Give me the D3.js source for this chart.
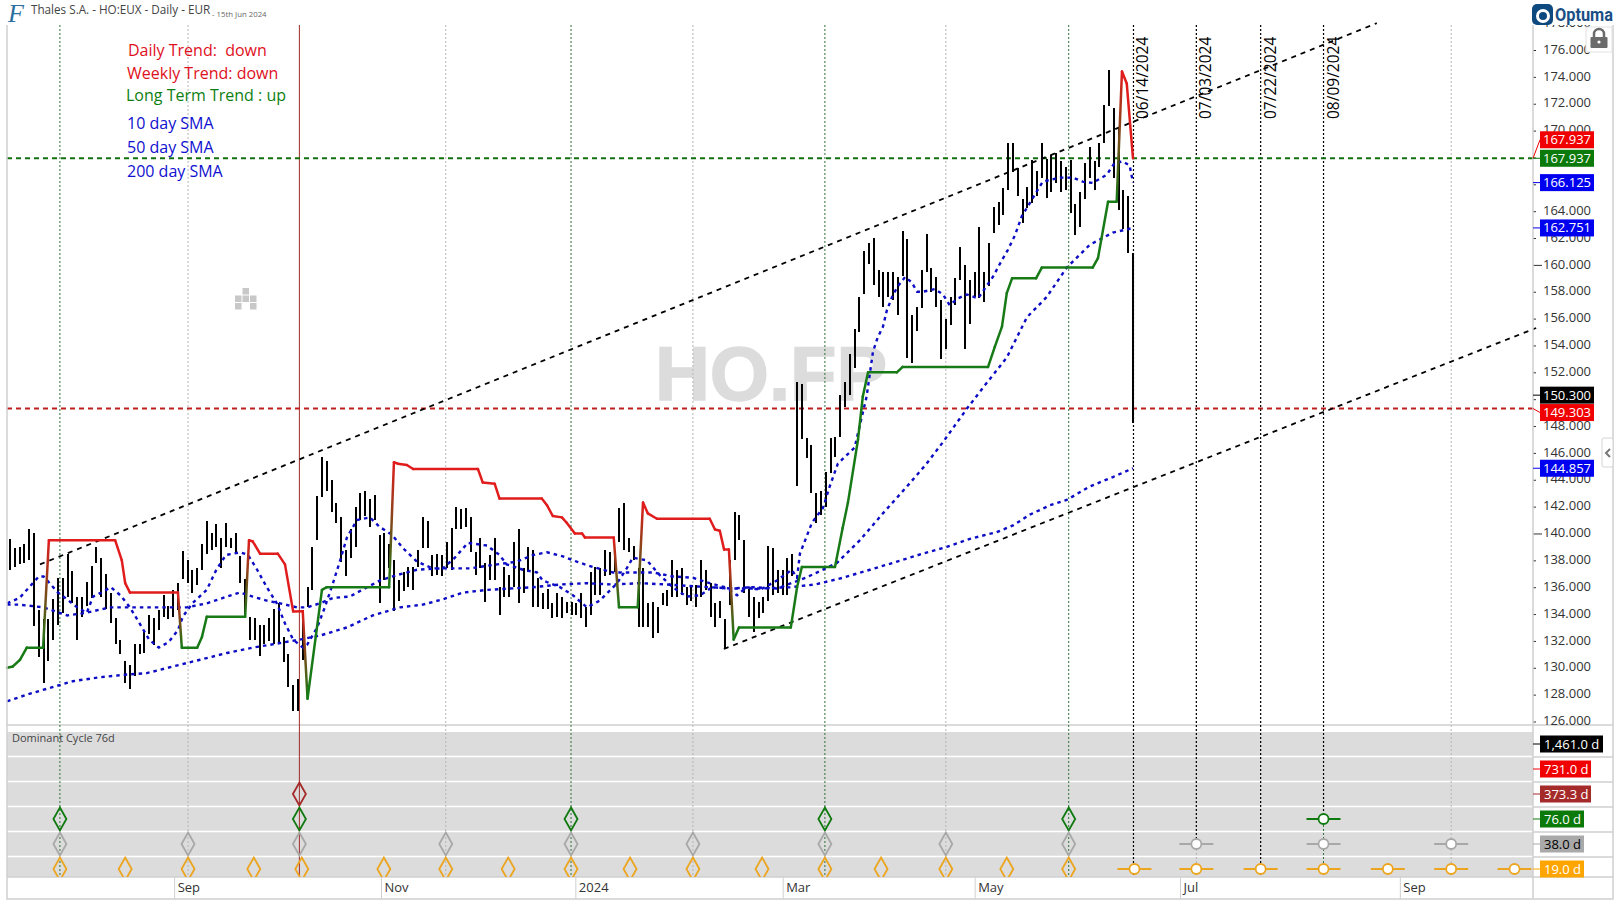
<!DOCTYPE html>
<html lang="en">

<head>
	<meta charset="UTF-8">
	<title>Thales S.A. - HO:EUX - Daily</title>

	<style>
		body { margin: 0; background: white; }
		svg { display: block; }
		text { font-family: "Open Sans", sans-serif; }
	</style>

	<script src="https://d3js.org/d3.v7.min.js"></script>

</head>

<body>

	<script type="text/javascript">
		//price bars, one value per trading day
		const highs = [139.6,138.9,139.0,139.2,140.3,140.0,134.3,133.6,133.6,135.1,136.7,136.7,138.5,137.2,135.3,135.3,136.4,137.6,139.0,138.2,
			137.0,135.6,133.7,132.1,130.5,130.2,131.8,131.8,132.7,133.9,133.7,134.3,135.4,134.6,135.8,136.3,138.7,138.0,137.3,137.4,
			139.2,140.9,140.0,140.7,139.7,140.8,139.7,140.0,138.3,136.6,133.8,133.7,133.2,133.2,133.7,134.4,134.8,132.3,131.0,128.7,
			129.2,134.3,136.0,139.0,142.8,145.7,145.4,144.0,142.3,141.2,138.8,140.3,142.0,143.0,143.2,142.6,142.9,139.9,140.0,139.2,
			138.0,136.5,137.1,137.5,137.5,138.8,141.2,140.9,138.4,138.5,138.4,139.4,140.4,142.0,141.8,141.9,141.2,138.6,139.7,137.8,
			138.4,139.7,136.0,137.5,136.9,139.4,140.3,137.4,139.0,138.8,136.7,135.6,135.9,134.8,135.6,135.3,134.9,134.9,134.8,135.6,
			134.5,137.1,137.5,137.4,138.8,138.6,138.6,141.9,142.3,139.7,139.1,137.4,137.4,134.8,134.9,134.5,135.6,135.8,138.0,137.3,
			137.4,136.0,136.0,136.2,138.0,137.3,136.3,134.8,135.0,133.6,138.0,141.6,141.4,139.5,135.9,135.3,134.9,135.3,139.1,138.9,
			137.3,137.3,138.2,138.5,151.3,151.1,147.1,146.6,143.0,143.2,144.6,147.1,147.2,150.3,151.3,153.4,155.2,157.6,161.0,161.6,
			162.0,159.6,159.5,159.5,159.5,159.1,162.5,161.9,156.3,156.9,159.6,162.3,159.8,159.1,157.4,156.0,157.6,159.0,161.3,160.0,
			158.9,159.5,162.8,159.5,161.6,164.3,164.7,165.7,169.1,169.1,167.2,164.9,165.8,167.8,167.0,169.1,167.9,168.2,168.3,167.7,
			167.3,167.8,164.5,165.4,167.6,168.8,167.7,169.1,171.9,174.5,171.7,170.3,165.6,165.1,160.9]
		const lows = [137.3,137.5,137.7,137.8,138.0,133.1,130.8,128.9,130.5,132.1,133.2,134.1,135.3,134.8,132.1,133.8,134.6,135.2,137.8,135.3,
			134.4,133.3,131.8,131.0,128.9,128.4,129.4,131.0,131.1,132.5,131.7,132.8,133.8,133.6,133.8,134.3,136.6,136.3,135.6,136.2,
			137.3,138.5,138.8,139.0,137.4,139.0,138.9,138.5,136.3,133.8,132.1,132.1,130.9,131.8,132.0,131.8,131.8,130.4,128.6,126.8,
			126.8,130.6,134.5,135.8,139.5,142.7,143.2,141.6,140.8,137.9,136.8,138.2,139.0,141.0,141.3,140.5,141.0,134.8,136.5,137.4,
			134.2,135.0,135.7,136.0,135.8,137.5,138.9,138.9,136.8,136.9,136.8,137.4,137.3,140.3,140.3,140.5,138.6,136.9,137.4,134.9,
			136.5,136.5,133.9,135.3,135.3,136.0,134.8,135.6,137.1,134.5,134.5,134.4,134.4,133.7,133.8,133.7,134.1,133.9,133.9,133.7,
			133.0,133.9,135.4,135.4,136.8,136.9,137.1,139.4,138.8,138.6,138.0,133.0,133.0,133.0,132.2,132.6,134.7,134.6,135.3,135.3,
			135.4,134.7,135.0,134.5,135.3,135.8,133.8,133.0,133.7,131.5,134.7,138.0,139.5,135.6,133.8,132.7,133.7,134.1,135.0,135.4,
			135.6,135.4,135.4,136.8,143.5,147.0,145.6,143.0,140.8,141.4,142.0,144.5,145.7,147.2,149.4,150.3,152.3,155.0,157.8,160.1,
			158.5,157.6,156.9,157.6,157.4,156.3,159.2,153.1,152.7,155.1,156.8,159.5,158.0,156.9,153.0,153.7,155.5,157.0,158.9,153.7,
			155.6,157.6,157.5,157.2,158.4,162.4,163.0,163.7,165.6,166.9,165.1,163.1,164.2,164.6,165.1,166.5,165.0,165.4,166.1,165.4,
			165.6,163.9,162.2,162.8,164.9,166.5,165.6,167.3,169.1,171.8,166.5,164.1,162.7,160.9,148.2]

		//moving averages, bar number and value of each bend
		const sma10Bars = [-0.6,2,4,6,7,8,10,11.5,14,16,17.3,19,21,23,25,27,29,31,33,35,36,38,41,43,45,48,49.6,51.5,53.5,55.6,57.3,59,61,61.9,64,65.6,67.3,68.8,70.2,72.3,75,77,79.6,81.9,84.8,88.1,90.2,92.7,95.4,99.4,102,103.5,106.9,109.8,111,114.6,117.3,120.2,122.9,126.5,128.5,129.8,132.7,135.4,138.1,141,143.8,146.3,149.4,151.5,153.5,156.3,159.8,162.9,164,164.6,167.1,169.4,170.8,172.5,176,177.5,178.5,179.8,180.8,181.9,182.7,184,185,186.5,187.9,189,190.2,192.7,194.4,195.8,197.5,199.4,201.7,204.8,206.3,207.9,209.4,210.8,213.5,215.2,218.8,221.5,223.5,225.6,228.5,230.2,231.9,233.3,234]
		const sma10Vals = [134.8,135.2,136.0,136.8,136.8,136.4,135.6,135.2,134.5,134.1,135.3,135.6,136.0,135.4,134.5,133.3,132.1,131.5,131.9,132.8,133.8,134.8,135.8,137.3,138.4,138.6,138.4,137.3,136.0,134.8,133.3,132.1,131.5,131.7,133.0,134.5,136.3,138.0,139.7,141.0,141.2,140.5,139.9,138.9,137.9,137.4,137.4,138.2,139.3,139.1,138.4,137.7,137.3,137.1,136.5,136.0,135.4,134.5,135.0,136.3,137.4,138.2,138.0,136.9,136.0,135.3,135.4,136.0,135.9,135.4,136.0,135.8,136.5,137.3,136.7,138.5,140.8,141.9,143.5,145.2,146.4,148.7,150.2,153.5,154.6,155.4,156.6,157.8,158.4,159.1,158.7,158.0,158.0,158.2,157.8,157.0,157.5,157.8,157.5,159.1,160.1,161.1,162.2,163.6,165.2,166.2,166.5,166.5,166.2,166.1,166.7,167.6,167.7,167.4,166.125]
		const sma50Bars = [-0.6,2,7,11.9,16,20.8,24.4,28.5,32.7,36.9,41,45.2,47.9,50.6,53.5,56.3,59.8,61.9,64.6,67.3,70.8,74.4,77.1,80.6,84.8,89.6,95.8,101.5,105.6,109,111.9,115.2,118.1,121.5,125.6,129.8,134,138.1,142.3,145.8,150,154.8,159.8,165.8,172.3,177.1,181.9,186.9,191,194.4,199.4,203.5,207.7,211.9,216,220.2,225,229.8,234]
		const sma50Vals = [134.7,134.7,134.5,133.9,134.1,134.5,134.5,134.5,134.5,134.5,134.8,135.3,135.6,135.3,135.0,134.8,134.5,134.5,134.8,135.2,135.3,136.0,136.5,136.9,137.3,137.4,137.4,137.7,137.9,138.4,138.6,138.3,137.9,137.5,137.1,137.1,137.1,136.8,136.7,136.3,135.9,136.0,135.9,136.7,137.8,139.5,141.5,143.5,145.2,146.8,149.3,151.2,153.1,156.1,157.6,159.8,161.5,162.4,162.751]
		const sma200Bars = [-0.6,3.5,8.3,13.1,18.8,24.4,28.5,34,39.6,45.2,50.6,55.6,60.4,64.6,70.2,75.6,81.3,86,90.2,94.4,99.4,104.2,109,114.6,120.2,125.6,131.3,136.9,141,145.8,150.6,156.3,162.5,167.7,173.5,179.2,184.8,190.2,195.2,200,205.6,209,212.5,216.7,220.2,225,229.8,234]
		const sma200Vals = [127.5,128.0,128.5,129.0,129.3,129.5,129.6,130.1,130.6,131.1,131.5,131.8,132.1,132.4,133.0,133.9,134.5,134.7,135.1,135.6,135.8,135.9,136.0,136.2,136.3,136.2,136.3,136.2,136.1,136.0,135.9,135.9,136.0,136.2,136.7,137.3,137.9,138.5,139.0,139.6,140.1,140.6,141.4,142.1,142.5,143.5,144.2,144.857]

		//red and green trend stop line: bar and value of each bend, then where it flips colour
		const trendBars = [-0.6,0.6,2.1,3.5,6.9,8.1,21.9,23.3,24,25,35,35.8,39,40,41,49,49.8,50.6,52.1,55.8,57.3,59,61,62,65,66,79,80,80.8,82.7,84,97.5,98.5,101,102,110.8,111.9,113.1,115,116,117.7,119.2,119.8,125.8,126.9,130.8,131.9,132.9,134.8,145.8,146.9,147.9,148.8,149.8,150.8,151.9,162.7,164,165,171.9,173.5,174.6,176.7,177.7,178.8,184.8,186,203.8,205.2,206.7,207.7,208.8,213.8,215,225.6,226.7,228.8,230.6,231.7,232.7,234]
		const trendVals = [130.0,130.1,130.6,131.5,131.5,139.5,139.5,138.0,136.3,135.6,135.6,131.5,131.5,132.3,133.8,133.8,139.5,139.4,138.5,138.5,137.7,134.2,134.2,127.7,135.8,136.0,136.0,145.3,145.2,145.1,144.8,144.8,143.8,143.7,142.6,142.6,142.1,141.3,141.2,140.8,140.0,140.0,139.7,139.7,134.5,134.5,142.3,141.5,141.1,141.1,140.3,140.2,138.8,138.8,132.1,133.0,133.0,136.0,137.5,137.5,140.4,142.3,147.0,150.2,152.0,152.0,152.4,152.4,153.9,155.4,157.9,159.0,159.0,159.8,159.8,160.5,164.7,164.7,174.4,173.5,167.937]
		const trendTurns = [[0,"g"],[5,"r"],[11,"g"],[16,"r"],[23,"g"],[27,"r"],[44,"g"],[46,"r"],[54,"g"],[78,"r"]]

		//channel lines, two anchors each (bar, value)
		const channelBars = [[6.25,284.8],[148.75,318]]
		const channelVals = [[137.7,178.0],[131.4,155.3]]

		//horizontal levels
		const levelVals = [167.937,149.303]
		const levelColors = ["#13700f","#c01f1f"]

		//projected dates
		const dateBars = [234.1,247.2,260.6,273.7]
		const dateLabels = ["06/14/2024","07/03/2024","07/22/2024","08/09/2024"]

		//axis labels
		const priceTicks = d3.range(126,180,2)
		const monthBars = [34.2,77.3,117.8,161,201,243.8,289.6]
		const monthLabels = ["Sep","Nov","2024","Mar","May","Jul","Sep"]

		//cycle rows
		const cycleRows = ["1,461.0 d","731.0 d","373.3 d","76.0 d","38.0 d","19.0 d"]
		const cycleColors = ["black","#f00000","#a52a2a","#0b7a0b","#a9a9a9","#ffa500"]
		const cycleStroke = ["black","#f00000","#a52a2a","#0f7a0f","#a8a8a8","#eca51f"]
		const cycleText = ["white","white","white","white","black","white"]
		const cycleTagWidth = [63,51,51,44,44,44]

		const diamonds373 = [60.3]
		const diamonds76 = [10.4,60.3,116.9,169.8,220.6]
		const diamonds38 = [10.4,37.1,60.3,90.8,116.9,142.3,169.8,195,220.6]
		const diamonds19 = [10.4,24,37.1,50.8,60.8,77.9,90.8,103.8,116.9,129.2,142.3,156.7,169.8,181.5,195,207.7,220.6]
		const future76 = [273.7]
		const future38 = [247.2,273.7,300.3]
		const future19 = [234.3,247.2,260.6,273.7,287.1,300.3,313.5]

		//price tags on the right side
		const tagVals = [167.937,167.937,166.125,162.751,150.300,149.303,144.857]
		const tagColors = ["#f00000","#0b7a0b","#0000f0","#0000f0","black","#f00000","#0000f0"]

		const notes = ["Daily Trend:  down","Weekly Trend: down","Long Term Trend : up","10 day SMA","50 day SMA","200 day SMA"]
		const noteColors = ["#e0101c","#e0101c","#0e7f12","#1010d0","#1010d0","#1010d0"]

		const width = 1620
		const height = 907
		const plotLeft = 7
		const plotRight = 1533
		const plotTop = 25
		const plotBottom = 725
		const bandTop = 732
		const bandBottom = 877
		const axisBottom = 899
		const paneRight = 1613

		//create an svg
		const svg = d3.select("body").append("svg")
			.attr("width", width)
			.attr("height", height)
			.attr("viewBox", "0 0 " + width + " " + height)

		const defs = svg.append("defs")

		defs.append("clipPath").attr("id", "bandclip")
			.append("rect")
			.attr("x", plotLeft).attr("y", bandTop)
			.attr("width", plotRight - plotLeft).attr("height", bandBottom - bandTop)

		//scales: x runs on bar number, 235 bars plus the projected days
		const x = d3.scaleLinear().domain([0, 234]).range([10, 1133])
		const y = d3.scaleLinear().domain([126, 176]).range([721.5, 50])
		const rowY = d3.scalePoint().domain(cycleRows).range([744, 869])

		svg.append("rect").attr("width", width).attr("height", height).attr("fill", "white")

		//watermark
		svg.append("text")
			.attr("x", 771).attr("y", 400)
			.attr("text-anchor", "middle")
			.style("font-family", "'Liberation Sans'")
			.style("font-weight", "bold")
			.style("font-size", "76px")
			.attr("fill", "#dcdcdc")
			.attr("stroke", "#dcdcdc").attr("stroke-width", 1.5)
			.text("HO.FP")

		//gray cycle bands
		svg.append("rect")
			.attr("x", plotLeft).attr("y", bandTop)
			.attr("width", plotRight - plotLeft).attr("height", bandBottom - bandTop)
			.attr("fill", "#dcdcdc")

		svg.selectAll(".rowline")
			.data(cycleRows.slice(0, 5))
			.join("line")
			.attr("x1", plotLeft).attr("x2", plotRight)
			.attr("y1", d => rowY(d) + 12.5).attr("y2", d => rowY(d) + 12.5)
			.attr("stroke", "white").attr("stroke-width", 1.5)

		//right pane separators
		svg.selectAll(".paneline")
			.data(cycleRows.slice(0, 5))
			.join("line")
			.attr("x1", plotRight).attr("x2", paneRight)
			.attr("y1", d => rowY(d) + 13).attr("y2", d => rowY(d) + 13)
			.attr("stroke", "#cfcfcf").attr("stroke-width", 1.5)
		svg.append("line")
			.attr("x1", plotLeft).attr("x2", paneRight)
			.attr("y1", plotBottom).attr("y2", plotBottom)
			.attr("stroke", "#cfcfcf").attr("stroke-width", 1.5)

		//vertical cycle lines
		const grayBars = [37.1,90.8,142.3,195,247.2,300.3]
		svg.selectAll(".vgray")
			.data(grayBars)
			.join("line")
			.attr("x1", d => x(d)).attr("x2", d => x(d))
			.attr("y1", plotTop).attr("y2", bandBottom)
			.attr("stroke", "#b4b4b4").attr("stroke-dasharray", "2,2")
		svg.selectAll(".vgreen")
			.data([10.4,116.9,169.8,220.6,273.7])
			.join("line")
			.attr("x1", d => x(d)).attr("x2", d => x(d))
			.attr("y1", plotTop).attr("y2", bandBottom)
			.attr("stroke", "#2f6f3a").attr("stroke-dasharray", "2,2")

		//projected date lines
		svg.selectAll(".vdate")
			.data(dateBars)
			.join("line")
			.attr("x1", d => x(d)).attr("x2", d => x(d))
			.attr("y1", plotTop).attr("y2", (d, i) => i == 1 ? 844 : i == 3 ? 819 : bandBottom)
			.attr("stroke", "black").attr("stroke-width", 1.2).attr("stroke-dasharray", "2,2")

		//brown line
		svg.append("line")
			.attr("x1", x(60.3)).attr("x2", x(60.3))
			.attr("y1", plotTop).attr("y2", bandBottom)
			.attr("stroke", "#a02c2c").attr("stroke-width", 1)

		//levels
		svg.selectAll(".level")
			.data(levelVals)
			.join("line")
			.attr("x1", plotLeft).attr("x2", plotRight)
			.attr("y1", d => y(d)).attr("y2", d => y(d))
			.attr("stroke", (d, i) => levelColors[i])
			.attr("stroke-width", 2).attr("stroke-dasharray", "5,4")

		//channel lines
		svg.selectAll(".channel")
			.data(channelBars)
			.join("line")
			.attr("x1", d => x(d[0])).attr("x2", d => x(d[1]))
			.attr("y1", (d, i) => y(channelVals[i][0])).attr("y2", (d, i) => y(channelVals[i][1]))
			.attr("stroke", "black").attr("stroke-width", 1.8).attr("stroke-dasharray", "5,5")

		//price bars
		svg.selectAll(".bar")
			.data(highs)
			.join("line")
			.attr("x1", (d, i) => x(i)).attr("x2", (d, i) => x(i))
			.attr("y1", d => y(d)).attr("y2", (d, i) => y(lows[i]))
			.attr("stroke", "black").attr("stroke-width", 2)
			.style("shape-rendering", "crispEdges")

		//moving averages
		const maLine = d3.line().x(d => x(d[0])).y(d => y(d[1]))
		const maSeries = [[sma10Bars, sma10Vals], [sma50Bars, sma50Vals], [sma200Bars, sma200Vals]]
		svg.selectAll(".ma")
			.data(maSeries)
			.join("path")
			.attr("d", d => maLine(d3.zip(d[0], d[1])))
			.attr("fill", "none")
			.attr("stroke", "#0c0cc4").attr("stroke-width", 2.4).attr("stroke-dasharray", "3.5,4")

		//trend line, each piece red or green, brown blend where it flips
		const trendRed = "#e01c1c"
		const trendGreen = "#177a17"
		function trendColor(i) {
			let c = "g"
			trendTurns.forEach(t => { if (i >= t[0]) c = t[1] })
			return c == "r" ? trendRed : trendGreen
		}
		const trendPieces = d3.pairs(d3.range(trendBars.length))
		trendPieces.forEach(function(p, k) {
			const x1 = x(trendBars[p[0]]), y1 = y(trendVals[p[0]])
			const x2 = x(trendBars[p[1]]), y2 = y(trendVals[p[1]])
			const c1 = trendColor(p[0]), c2 = trendColor(p[1])
			let stroke = c1
			if (c1 != c2) {
				const g = defs.append("linearGradient")
					.attr("id", "flip" + k)
					.attr("gradientUnits", "userSpaceOnUse")
					.attr("x1", x1).attr("y1", y1).attr("x2", x2).attr("y2", y2)
				g.append("stop").attr("offset", 0).attr("stop-color", c1)
				g.append("stop").attr("offset", 1).attr("stop-color", c2)
				stroke = "url(#flip" + k + ")"
			}
			svg.append("line")
				.attr("x1", x1).attr("y1", y1 + (y1 == y2 ? 0.01 : 0))
				.attr("x2", x2).attr("y2", y2)
				.attr("stroke", stroke).attr("stroke-width", 2.5).attr("stroke-linecap", "round")
		})

		//axes
		const yAxis = svg.append("g")
			.attr("transform", "translate(" + plotRight + ",0)")
			.call(d3.axisRight(y).tickValues(priceTicks).tickFormat(d3.format(".3f")).tickSize(3).tickPadding(7))
		yAxis.select(".domain").remove()
		yAxis.selectAll("text").style("font-size", "13px").attr("fill", "#333").attr("x", 10).attr("y", -1)
		yAxis.selectAll("line").attr("x2", d => d % 20 == 0 ? 9 : 3).attr("stroke", "#333")

		const xAxis = svg.append("g")
			.attr("transform", "translate(0," + bandBottom + ")")
			.call(d3.axisBottom(x).tickValues(monthBars).tickFormat((d, i) => monthLabels[i]).tickSize(axisBottom - bandBottom))
		xAxis.select(".domain").remove()
		xAxis.selectAll("line").attr("stroke", "#cfcfcf")
		xAxis.selectAll("text")
			.attr("x", 3).attr("y", 15).attr("dy", 0)
			.attr("text-anchor", "start")
			.style("font-size", "13px").attr("fill", "#333")

		//panel frame
		svg.append("path")
			.attr("d", "M" + plotLeft + "," + plotTop + "V" + axisBottom + "H" + paneRight + "V" + plotTop
				+ "M" + plotRight + "," + plotTop + "V" + axisBottom
				+ "M" + plotLeft + "," + bandBottom + "H" + paneRight)
			.attr("fill", "none").attr("stroke", "#cfcfcf").attr("stroke-width", 1.5)

		//cycle diamonds
		const diamondPath = "M0,-11.5L6.5,0L0,11.5L-6.5,0Z"
		const diamondRows = [[diamonds373, 2], [diamonds76, 3], [diamonds38, 4], [diamonds19, 5]]
		const clipped = svg.append("g").attr("clip-path", "url(#bandclip)")
		diamondRows.forEach(function(r) {
			clipped.selectAll(null)
				.data(r[0])
				.join("path")
				.attr("d", diamondPath)
				.attr("transform", d => "translate(" + x(d) + "," + rowY(cycleRows[r[1]]) + ")")
				.attr("fill", "none")
				.attr("stroke", cycleStroke[r[1]]).attr("stroke-width", 1.8)
		})

		//projected cycle markers
		const futureRows = [[future76, 3], [future38, 4], [future19, 5]]
		futureRows.forEach(function(r) {
			const marks = svg.selectAll(null)
				.data(r[0])
				.join("g")
				.attr("transform", d => "translate(" + x(d) + "," + rowY(cycleRows[r[1]]) + ")")
			marks.append("line")
				.attr("x1", -17).attr("x2", 17)
				.attr("stroke", cycleStroke[r[1]]).attr("stroke-width", 2)
			marks.append("circle")
				.attr("r", 5)
				.attr("fill", "white")
				.attr("stroke", cycleStroke[r[1]]).attr("stroke-width", 1.8)
		})

		//cycle tags
		const rowTags = svg.selectAll(".rowtag")
			.data(cycleRows)
			.join("g")
			.attr("transform", d => "translate(1533," + rowY(d) + ")")
		rowTags.append("line")
			.attr("x1", 0).attr("x2", 7)
			.attr("stroke", (d, i) => cycleColors[i])
		rowTags.append("rect")
			.attr("x", 7).attr("y", -8.5)
			.attr("width", (d, i) => cycleTagWidth[i]).attr("height", 17)
			.attr("fill", (d, i) => cycleColors[i])
		rowTags.append("text")
			.attr("x", 11).attr("y", 5)
			.style("font-size", "13px")
			.attr("fill", (d, i) => cycleText[i])
			.text(d => d)

		svg.append("text")
			.attr("x", 12).attr("y", 742)
			.style("font-size", "11px").attr("fill", "#444")
			.text("Dominant Cycle 76d")

		//price tags, two are pushed aside so they dont overlap
		const tagShift = [-18.5, 0, 0, 0, 0, 4, 0]
		const priceTags = svg.selectAll(".pricetag")
			.data(tagVals)
			.join("g")
		priceTags.append("line")
			.attr("x1", plotRight).attr("x2", 1540)
			.attr("y1", d => y(d)).attr("y2", (d, i) => y(d) + tagShift[i])
			.attr("stroke", (d, i) => tagColors[i])
		priceTags.append("rect")
			.attr("x", 1540).attr("y", (d, i) => y(d) + tagShift[i] - 8.5)
			.attr("width", 54).attr("height", 17)
			.attr("fill", (d, i) => tagColors[i])
		priceTags.append("text")
			.attr("x", 1567).attr("y", (d, i) => y(d) + tagShift[i] + 4.5)
			.attr("text-anchor", "middle")
			.style("font-size", "13px").attr("fill", "white")
			.text(d => d3.format(".3f")(d))

		//rotated date labels
		svg.selectAll(".datelabel")
			.data(dateLabels)
			.join("text")
			.attr("transform", (d, i) => "translate(" + (x(dateBars[i]) + 15) + ",119) rotate(-90)")
			.style("font-size", "15.5px").attr("fill", "black")
			.text(d => d)

		//notes at top left
		const noteX = [128, 127, 126, 127, 127, 127]
		const noteY = [56, 79, 101, 129, 153, 177]
		svg.selectAll(".note")
			.data(notes)
			.join("text")
			.attr("x", (d, i) => noteX[i]).attr("y", (d, i) => noteY[i])
			.style("font-size", "16px")
			.style("white-space", "pre")
			.attr("fill", (d, i) => noteColors[i])
			.text(d => d)

		//title
		svg.append("text")
			.attr("x", 31).attr("y", 14)
			.style("font-size", "11.7px").attr("fill", "#444")
			.text("Thales S.A. - HO:EUX - Daily - EUR")
		svg.append("text")
			.attr("x", 212).attr("y", 17)
			.style("font-size", "7.8px").attr("fill", "#666")
			.text("- 15th Jun 2024")
		svg.append("text")
			.attr("x", 8).attr("y", 22)
			.style("font-family", "'Liberation Serif'")
			.style("font-style", "italic")
			.style("font-size", "26px")
			.attr("fill", "#2d6f9f")
			.text("F")

		//small gray mark left of the chart
		const markCells = [[1,0],[0,1],[1,1],[2,1],[0,2],[2,2]]
		svg.selectAll(".markcell")
			.data(markCells)
			.join("rect")
			.attr("x", d => 235 + d[0] * 7.5).attr("y", d => 288 + d[1] * 7.5)
			.attr("width", 6.5).attr("height", 6.5)
			.attr("fill", "#c8c8c8")

		//logo
		svg.append("rect").attr("x", 1530).attr("y", 0).attr("width", 90).attr("height", 25).attr("fill", "white")
		svg.append("rect").attr("x", 1532).attr("y", 4).attr("width", 21).attr("height", 21).attr("rx", 5).attr("fill", "#0e4a80")
		svg.append("circle").attr("cx", 1543).attr("cy", 16).attr("r", 5.5).attr("fill", "none").attr("stroke", "white").attr("stroke-width", 3)
		svg.append("text")
			.attr("x", 1555).attr("y", 21)
			.attr("textLength", 58).attr("lengthAdjust", "spacingAndGlyphs")
			.style("font-family", "Roboto")
			.style("font-weight", "700")
			.style("font-size", "19px")
			.attr("fill", "#1a4f85")
			.text("Optuma")

		//lock button
		svg.append("rect").attr("x", 1586).attr("y", 27).attr("width", 26).attr("height", 25).attr("fill", "white").attr("stroke", "#e2e2e2")
		svg.append("path").attr("d", "M1594,38V34a5,5 0 0 1 10,0V38").attr("fill", "none").attr("stroke", "#6b6b6b").attr("stroke-width", 2.5)
		svg.append("rect").attr("x", 1590.5).attr("y", 37).attr("width", 17).attr("height", 11).attr("rx", 1).attr("fill", "#6b6b6b")
		svg.append("circle").attr("cx", 1599).attr("cy", 42).attr("r", 1.6).attr("fill", "white")

		//side tab
		svg.append("rect").attr("x", 1602).attr("y", 438).attr("width", 11).attr("height", 29).attr("rx", 2).attr("fill", "white").attr("stroke", "#d4d4d4")
		svg.append("path").attr("d", "M1610,449L1606,453L1610,457").attr("fill", "none").attr("stroke", "#777").attr("stroke-width", 2)
	</script>


</body>

</html>
